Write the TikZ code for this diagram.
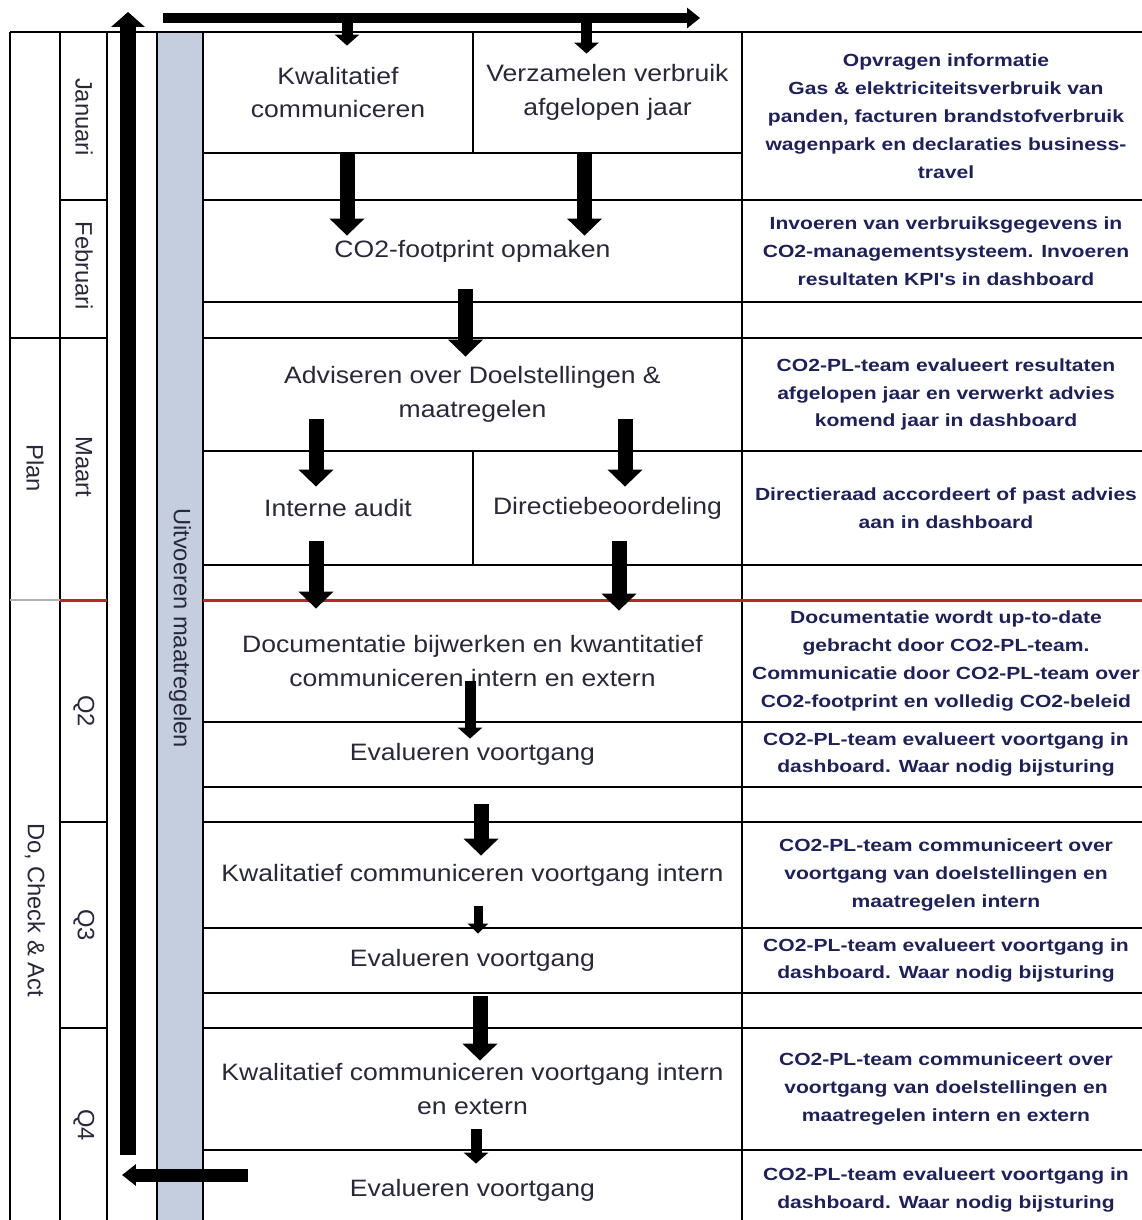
\documentclass[tikz,border=0pt]{standalone}
\usepackage{fontspec}
\setmainfont{Liberation Sans}
\newfontfamily\cellfont[FakeStretch=1.12]{Liberation Sans}
\newfontfamily\infofont[FakeStretch=1.2]{Liberation Sans}
\usetikzlibrary{arrows.meta,calc}

\definecolor{bargrey}{RGB}{196,206,222}
\definecolor{txtdark}{RGB}{40,40,58}
\definecolor{txtnavy}{RGB}{30,32,92}
\definecolor{planred}{RGB}{178,42,42}

\begin{document}
\begin{tikzpicture}[x=0.02cm, y=-0.02cm, % one unit is one pixel of the scan
  cell/.style={draw, line width=1.6pt, inner sep=0pt, align=center, text=txtdark,
    font=\cellfont\fontsize{13.5}{19.3}\selectfont},
  info/.style={cell, text=txtnavy, minimum width=8.16cm,
    font=\infofont\bfseries\fontsize{10}{15.9}\selectfont},
  month/.style={rotate=-90, text=txtdark, font=\fontsize{13.5}{16}\selectfont},
  grid/.style={line width=1.6pt},
  blk/.style={line width=0.3cm, -{Triangle[width=0.68cm,length=0.34cm]}},
  thinblk/.style={line width=0.22cm, -{Triangle[width=0.48cm,length=0.22cm]}}]

  \useasboundingbox (0,0) rectangle (1142,1220);
  \clip (0,0) rectangle (1142,1220);

  % bar for Uitvoeren maatregelen
  \fill[bargrey] (157,32) rectangle (203,1230);

  % left columns
  \draw[grid] (10,32) -- (1142,32);
  \foreach \x in {10,60,107,157,203,742}
    \draw[grid] (\x,32) -- (\x,1230);
  \draw[grid] (10,338) -- (107,338);
  \foreach \y in {200,822,1028}
    \draw[grid] (60,\y) -- (107,\y);
  \draw[gray!60, line width=1pt] (10,600) -- (60,600);

  % phases and months
  \node[month] (plan) at (35,468) {Plan};
  \node[month] (dca) at (35,910) {Do, Check \& Act};
  \node[month] (jan) at (84,117) {Januari};
  \node[month] (feb) at (84,266) {Februari};
  \node[month] (maart) at (84,467) {Maart};
  \node[month] (q2) at (84,711) {Q2};
  \node[month] (q3) at (84,925) {Q3};
  \node[month] (q4) at (84,1125) {Q4};
  \node[month] (uitv) at (180,628) {Uitvoeren maatregelen};

  % activities
  \node[cell, minimum width=5.4cm, minimum height=2.42cm] (kwal) at (338,92.5) {Kwalitatief\\communiceren};
  \node[cell, minimum width=5.38cm, minimum height=2.42cm] (verz) at (607.5,92.5) {Verzamelen verbruik\\afgelopen jaar};
  \node[cell, minimum width=10.78cm, minimum height=2.04cm] (co2) at (472.5,251) {CO2-footprint opmaken};
  \node[cell, minimum width=10.78cm, minimum height=2.26cm] (adv) at (472.5,394.5) {Adviseren over Doelstellingen \&\\maatregelen};
  \node[cell, minimum width=5.4cm, minimum height=2.28cm] (audit) at (338,508) {Interne audit};
  \node[cell, minimum width=5.38cm, minimum height=2.28cm] (dirb) at (607.5,508) {Directiebeoordeling};
  \node[cell, minimum width=10.78cm, minimum height=2.44cm] (docu) at (472.5,661) {Documentatie bijwerken en kwantitatief\\communiceren intern en extern};
  \node[cell, minimum width=10.78cm, minimum height=1.3cm] (eval1) at (472.5,754.5) {Evalueren voortgang};
  \node[cell, minimum width=10.78cm, minimum height=2.12cm] (comm1) at (472.5,875) {Kwalitatief communiceren voortgang intern};
  \node[cell, minimum width=10.78cm, minimum height=1.3cm] (eval2) at (472.5,960.5) {Evalueren voortgang};
  \node[cell, minimum width=10.78cm, minimum height=2.44cm] (comm2) at (472.5,1089) {Kwalitatief communiceren voortgang intern\\en extern};
  \node[cell, minimum width=10.78cm, minimum height=1.6cm] (eval3) at (472.5,1190) {Evalueren voortgang};

  % who does what
  \node[info, minimum height=3.36cm] (opv) at (946,116) {Opvragen informatie\\Gas \& elektriciteitsverbruik van\\panden, facturen brandstofverbruik\\wagenpark en declaraties business-\\travel};
  \node[info, minimum height=2.04cm] (inv) at (946,251) {Invoeren van verbruiksgegevens in\\CO2-managementsysteem. Invoeren\\resultaten KPI's in dashboard};
  \node[info, minimum height=2.26cm] (res) at (946,394.5) {CO2-PL-team evalueert resultaten\\afgelopen jaar en verwerkt advies\\komend jaar in dashboard};
  \node[info, minimum height=2.28cm] (dirr) at (946,508) {Directieraad accordeert of past advies\\aan in dashboard};
  \node[info, minimum height=2.44cm] (docr) at (946,661) {Documentatie wordt up-to-date\\gebracht door CO2-PL-team.\\Communicatie door CO2-PL-team over\\CO2-footprint en volledig CO2-beleid};
  \node[info, minimum height=1.3cm] (evr1) at (946,754.5) {CO2-PL-team evalueert voortgang in\\dashboard. Waar nodig bijsturing};
  \node[info, minimum height=2.12cm] (comr1) at (946,875) {CO2-PL-team communiceert over\\voortgang van doelstellingen en\\maatregelen intern};
  \node[info, minimum height=1.3cm] (evr2) at (946,960.5) {CO2-PL-team evalueert voortgang in\\dashboard. Waar nodig bijsturing};
  \node[info, minimum height=2.44cm] (comr2) at (946,1089) {CO2-PL-team communiceert over\\voortgang van doelstellingen en\\maatregelen intern en extern};
  \node[info, minimum height=1.6cm] (evr3) at (946,1190) {CO2-PL-team evalueert voortgang in\\dashboard. Waar nodig bijsturing};

  % start of Do
  \draw[planred, line width=1.7pt] (60,600) -- (107,600);
  \draw[planred, line width=1.7pt] (203,600) -- (1142,600);

  % yearly cycle
  \coordinate (cycleB) at (128,1155);
  \coordinate (cycleT) at (128,12);
  \draw[line width=0.32cm, -{Triangle[width=0.66cm,length=0.3cm]}] (cycleB) -- (cycleT);
  \coordinate (startL) at (163,18);
  \coordinate (startR) at (700,18);
  \draw[line width=0.2cm, -{Triangle[width=0.4cm,length=0.26cm]}] (startL) -- (startR);
  \coordinate (backS) at (248,1175);
  \coordinate (backE) at (122,1175);
  \draw[line width=0.26cm, -{Triangle[width=0.42cm,length=0.28cm]}] (backS) -- (backE);

  % flow between activities
  \draw[thinblk] ($(startL -| kwal.north)+(9,0)$) -- ($(kwal.north)+(9,15)$);
  \draw[thinblk] ($(startL -| verz.north)+(-21,0)$) -- ($(verz.north)+(-21,23)$);
  \draw[blk] ($(kwal.south)+(9,0)$) -- ($(kwal.south |- co2.north)+(9,37)$);
  \draw[blk] ($(verz.south)+(-23,0)$) -- ($(verz.south |- co2.north)+(-23,37)$);
  \draw[blk] ($(co2.south)+(-7,-14)$) -- ($(adv.north)+(-7,20)$);
  \draw[blk] ($(adv.south -| audit.south)+(-22,-33)$) -- ($(audit.north)+(-22,37)$);
  \draw[blk] ($(adv.south -| dirb.south)+(17.5,-33)$) -- ($(dirb.north)+(17.5,37)$);
  \draw[blk] ($(audit.south)+(-22,-25)$) -- ($(audit.south |- docu.north)+(-22,10)$);
  \draw[blk] ($(dirb.south)+(11.5,-25)$) -- ($(dirb.south |- docu.north)+(11.5,12)$);
  \draw[thinblk] ($(docu.south)+(-2.5,-42)$) -- ($(eval1.north)+(-2.5,18)$);
  \draw[blk] ($(eval1.south)+(8.5,16)$) -- ($(comm1.north)+(8.5,35)$);
  \draw[line width=0.18cm, -{Triangle[width=0.4cm,length=0.2cm]}] ($(comm1.south)+(5.5,-23)$) -- ($(eval2.north)+(5.5,7)$);
  \draw[blk] ($(eval2.south)+(7.5,2)$) -- ($(comm2.north)+(7.5,34)$);
  \draw[thinblk] ($(comm2.south)+(3.5,-22)$) -- ($(eval3.north)+(3.5,15)$);
\end{tikzpicture}
\end{document}
